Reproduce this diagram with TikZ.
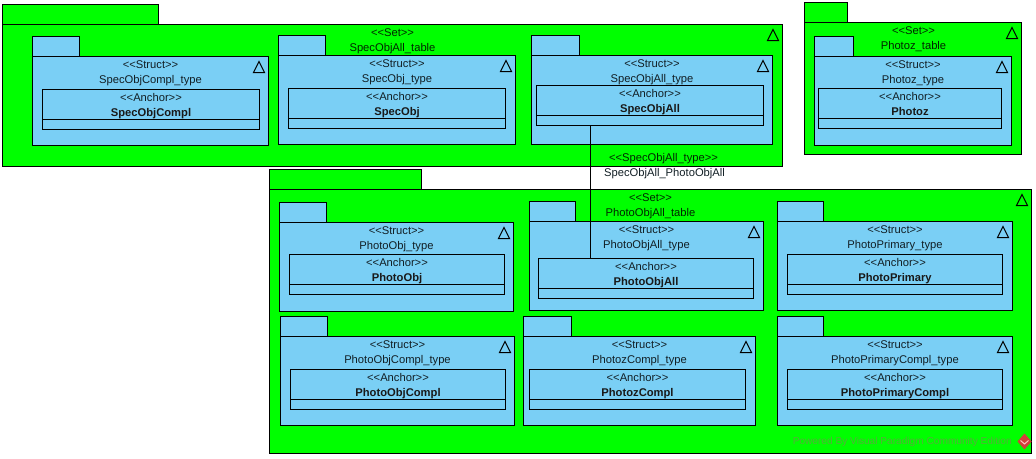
\documentclass[tikz,border=0pt]{standalone}
\usepackage{fontspec}
\setmainfont{Liberation Sans}
\usetikzlibrary{fit}
\definecolor{setgreen}{HTML}{00FF00}
\definecolor{structblue}{HTML}{7ACFF5}
\definecolor{markgrey}{HTML}{55AE3A}
\definecolor{markred}{HTML}{D2403A}
\tikzset{
	setbody/.style={draw=black,fill=setgreen,line width=.75pt},
	structbody/.style={draw=black,fill=structblue,line width=.75pt},
	anchorbody/.style={draw=black,fill=structblue,line width=.75pt,inner sep=0pt},
	label/.style={inner sep=0pt,text height=7pt,text depth=2pt,font=\fontsize{8.4}{10}\selectfont,text=black!85!structblue},
	setlabel/.style={label,text=black!85!setgreen},
	anchorname/.style={label,font=\fontsize{8.4}{10}\selectfont\bfseries,text=black!90},
}
% triangle du coin haut droit
\newcommand{\cornermark}[2]{
	\draw[line width=.75pt] (#1-15,#2+16) -- (#1-9.5,#2+5) -- (#1-4,#2+16) -- cycle;
}
% stereotype
\newcommand{\stereo}[1]{<\kern0pt<#1>\kern0pt>}
\begin{document}
\begin{tikzpicture}[x=.75pt,y=-.75pt]
	\useasboundingbox (-.5,-.5) rectangle (1035.5,457.5);

	% sets
	\foreach \nm/\ttl/\xa/\ya/\xb/\yb/\tabw/\cx in {
		specobjtable/SpecObjAll/2/24/782/166/156/392,
		photoztable/Photoz/804/22/1021/154/43/913,
		photoobjtable/PhotoObjAll/269/189/1031/453/152/650} {
		\draw[setbody] (\xa,\ya-20) rectangle (\xa+\tabw,\ya);
		\draw[setbody] (\xa,\ya) rectangle (\xb,\yb);
		\cornermark{\xb}{\ya}
		\node[setlabel] (\nm-st) at (\cx,\ya+9) {\stereo{Set}};
		\node[setlabel] (\nm-ty) at (\cx,\ya+24) {\ttl\_table};
	}

	% structs
	\foreach \nm/\xa/\ya/\xb/\tabw/\axa/\aya/\axb in {
		SpecObjCompl/32/56/268/47/42/89/259,
		SpecObj/278/55/515/47/288/88/505,
		SpecObjAll/531/55/772/48/536/85/763,
		Photoz/814/56/1011/39/818/88/1001,
		PhotoObj/279/222/513/47/289/254/504,
		PhotoObjAll/529/221/763/46/538/258/753,
		PhotoPrimary/777/221/1012/46/787/254/1002,
		PhotoObjCompl/280/336/514/47/290/369/505,
		PhotozCompl/523/336/755/48/529/369/745,
		PhotoPrimaryCompl/777/336/1012/46/787/369/1002} {
		\draw[structbody] (\xa,\ya-20) rectangle (\xa+\tabw,\ya);
		\draw[structbody] (\xa,\ya) rectangle (\xb,\ya+89);
		\cornermark{\xb}{\ya}
		\node[label] (\nm-st) at ({(\xa+\xb)/2},\ya+9) {\stereo{Struct}};
		\node[label] (\nm-ty) at ({(\xa+\xb)/2},\ya+24) {\nm\_type};
		\node[anchorbody,fit={(\axa,\aya) (\axb,\aya+40)}] (\nm) {};
		\draw[line width=.75pt] (\axa,\aya+30) -- (\axb,\aya+30);
		\node[label] (\nm-an) at ({(\axa+\axb)/2},\aya+9) {\stereo{Anchor}};
		\node[anchorname] (\nm-nm) at ({(\axa+\axb)/2},\aya+24) {\nm};
	}

	% association
	\coordinate (assoc) at (590,0);
	\draw[line width=.75pt] (assoc |- SpecObjAll.south) -- (assoc |- PhotoObjAll.north);
	\node[setlabel] (assocst) at (663,158) {\stereo{SpecObjAll\_type}};
	\node[label] (assocnm) at (664,173) {SpecObjAll\_PhotoObjAll};

	% filigrane
	\node[inner sep=0pt,anchor=west,font=\fontsize{7.6}{10}\selectfont,text=markgrey] (powered) at (792,441) {Powered By Visual Paradigm Community Edition};
	\fill[markred] (1024,433) -- (1031,441) -- (1024,449) -- (1017,441) -- cycle;
	\draw[red!25!white,line width=.75pt] (1020,440) -- (1024,443.5) -- (1028,440);
\end{tikzpicture}
\end{document}
